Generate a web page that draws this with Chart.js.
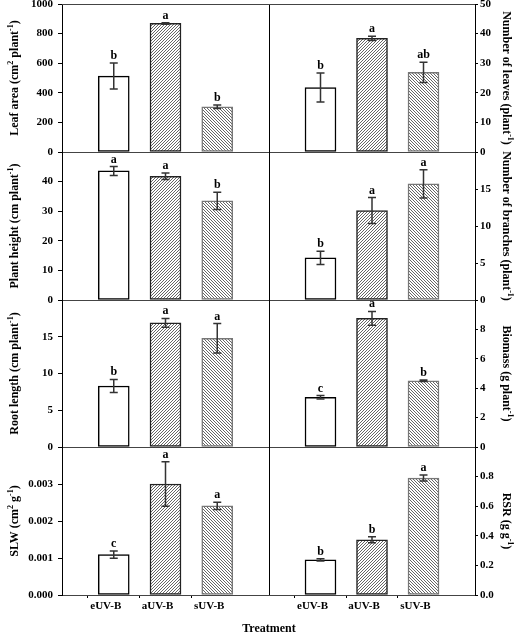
<!DOCTYPE html>
<html>
<head>
<meta charset="utf-8">
<script src="https://cdn.jsdelivr.net/npm/chart.js@4.4.0/dist/chart.umd.min.js"></script>
<style>
	body { margin: 0; background: #fff; }
	#wrap { position: relative; width: 517px; height: 635px; }
	#wrap canvas { position: absolute; left: 0; top: 0; }
</style>
</head>
<body>
<div id="wrap"></div>
<script>
const treatments = ["eUV-B", "aUV-B", "sUV-B"];

// left column
const leafArea = [513, 869, 306];
const leafAreaErr = [88, 5, 12];
const leafAreaSig = ["b", "a", "b"];

const plantHeight = [43.6, 41.8, 33.5];
const plantHeightErr = [1.5, 1.1, 2.9];
const plantHeightSig = ["a", "a", "b"];

const rootLength = [8.3, 16.9, 14.8];
const rootLengthErr = [0.9, 0.6, 2.0];
const rootLengthSig = ["b", "a", "a"];

const slw = [0.00109, 0.0030, 0.00241];
const slwErr = [0.0001, 0.0006, 0.0001];
const slwSig = ["c", "a", "a"];

// right column
const leaves = [21.8, 38.4, 26.9];
const leavesErr = [4.9, 0.7, 3.4];
const leavesSig = ["b", "a", "ab"];

const branches = [5.7, 12.1, 15.7];
const branchesErr = [0.9, 1.75, 1.9];
const branchesSig = ["b", "a", "a"];

const biomass = [3.38, 8.75, 4.5];
const biomassErr = [0.12, 0.47, 0.05];
const biomassSig = ["c", "a", "b"];

const rsr = [0.237, 0.373, 0.79];
const rsrErr = [0.008, 0.02, 0.02];
const rsrSig = ["b", "b", "a"];

// panel setup
const panels = [
	{ col: 0, row: 0, values: leafArea, err: leafAreaErr, sig: leafAreaSig, max: 1000, step: 200, dec: 0,
		title: [["Leaf area (cm"], ["2", 1], [" plant"], ["-1", 1], [")"]] },
	{ col: 1, row: 0, values: leaves, err: leavesErr, sig: leavesSig, max: 50, step: 10, dec: 0,
		title: [["Number of leaves (plant"], ["-1", 1], [")"]] },
	{ col: 0, row: 1, values: plantHeight, err: plantHeightErr, sig: plantHeightSig, max: 50, step: 10, dec: 0,
		title: [["Plant height (cm plant"], ["-1", 1], [")"]] },
	{ col: 1, row: 1, values: branches, err: branchesErr, sig: branchesSig, max: 20, step: 5, dec: 0,
		title: [["Number of branches (plant"], ["-1", 1], [")"]] },
	{ col: 0, row: 2, values: rootLength, err: rootLengthErr, sig: rootLengthSig, max: 20, step: 5, dec: 0,
		title: [["Root length (cm plant"], ["-1", 1], [")"]] },
	{ col: 1, row: 2, values: biomass, err: biomassErr, sig: biomassSig, max: 10, step: 2, dec: 0,
		title: [["Biomass (g plant"], ["-1", 1], [")"]] },
	{ col: 0, row: 3, values: slw, err: slwErr, sig: slwSig, max: 0.004, step: 0.001, dec: 3,
		title: [["SLW (cm"], ["2", 1], [" g"], ["-1", 1], [")"]] },
	{ col: 1, row: 3, values: rsr, err: rsrErr, sig: rsrSig, max: 1, step: 0.2, dec: 1,
		title: [["RSR (g g"], ["-1", 1], [")"]] },
];

const W = 517, H = 635;
const colX = [62, 269, 475];
const rowY = [4, 152, 300, 447, 595];
const AXW = 40; // forced y axis width
const XAH = 20; // forced x axis height
const FONT = "Liberation Serif";
const tickFont = { family: FONT, size: 11, weight: "bold" };

function hatch(g, dir) {
	const n = 3;
	const c = document.createElement("canvas");
	c.width = n;
	c.height = n;
	const t = c.getContext("2d");
	t.fillStyle = "#fff";
	t.fillRect(0, 0, n, n);
	t.strokeStyle = "#666";
	t.lineWidth = 1;
	t.beginPath();
	if (dir > 0) {
		t.moveTo(0, n); t.lineTo(n, 0);
		t.moveTo(-1, 1); t.lineTo(1, -1);
		t.moveTo(n - 1, n + 1); t.lineTo(n + 1, n - 1);
	} else {
		t.moveTo(0, 0); t.lineTo(n, n);
		t.moveTo(-1, n - 1); t.lineTo(1, n + 1);
		t.moveTo(n - 1, -1); t.lineTo(n + 1, 1);
	}
	t.stroke();
	return g.createPattern(c, "repeat");
}

function drawRich(g, parts, cx, cy, rot) {
	const big = "bold 12px '" + FONT + "'";
	const small = "bold 8px '" + FONT + "'";
	g.save();
	g.translate(cx, cy);
	g.rotate(rot);
	let total = 0;
	parts.forEach((pt) => {
		g.font = pt[1] ? small : big;
		total += g.measureText(pt[0]).width;
	});
	let x = -total / 2;
	g.textAlign = "left";
	g.textBaseline = "middle";
	g.fillStyle = "#000";
	parts.forEach((pt) => {
		g.font = pt[1] ? small : big;
		g.fillText(pt[0], x, pt[1] ? -4 : 0);
		x += g.measureText(pt[0]).width;
	});
	g.restore();
}

function makePanel(p) {
	const canvas = document.createElement("canvas");
	canvas.width = W;
	canvas.height = H;
	document.getElementById("wrap").appendChild(canvas);
	const ctx = canvas.getContext("2d");
	const left = p.col === 0;
	const bottomRow = p.row === 3;

	const pad = {
		top: rowY[p.row],
		bottom: H - rowY[p.row + 1] - XAH,
		left: left ? colX[0] - AXW : colX[1],
		right: left ? W - colX[1] : W - colX[2] - AXW,
	};

	new Chart(ctx, {
		type: "bar",
		data: {
			labels: ["", ...treatments, ""],
			datasets: [
				{
					data: [null, ...p.values, null],
					backgroundColor: ["transparent", "#fff", hatch(ctx, 1), hatch(ctx, -1), "transparent"],
					borderColor: ["transparent", "#000", "#222", "#777", "transparent"],
					borderWidth: 1.5,
					borderSkipped: false,
					barThickness: 31,
				},
			],
		},
		options: {
			responsive: false,
			animation: false,
			devicePixelRatio: 1,
			events: [],
			layout: { padding: pad },
			plugins: { legend: { display: false }, tooltip: { enabled: false } },
			scales: {
				x: {
					type: "category",
					offset: false,
					grid: {
						display: bottomRow,
						drawOnChartArea: false,
						drawTicks: true,
						tickLength: 3,
						color: (c) => (c.index >= 1 && c.index <= 3 ? "#000" : "rgba(0,0,0,0)"),
					},
					border: { display: true, color: "#444", width: 1 },
					ticks: {
						display: bottomRow,
						color: "#000",
						font: tickFont,
						maxRotation: 0,
						autoSkip: false,
						labelOffset: -8,
						padding: 2,
					},
					afterFit: (s) => {
						s.height = XAH;
						s.paddingLeft = 0;
						s.paddingRight = 0;
					},
				},
				y: {
					position: left ? "left" : "right",
					min: 0,
					max: p.max,
					ticks: {
						stepSize: p.step,
						color: "#000",
						font: tickFont,
						padding: left ? 5 : 2,
						callback: (v) => (p.row > 0 && Math.abs(v - p.max) < 1e-9 ? "" : Number(v).toFixed(p.dec)),
					},
					grid: {
						drawOnChartArea: false,
						drawTicks: true,
						tickLength: left ? 4 : 3,
						color: "#000",
					},
					border: { display: true, color: "#000", width: 1 },
					afterFit: (s) => {
						s.width = AXW;
						s.paddingTop = 0;
						s.paddingBottom = 0;
					},
				},
			},
		},
		plugins: [
			{
				id: "extras",
				afterDraw(chart) {
					const g = chart.ctx;
					const a = chart.chartArea;
					const y = chart.scales.y;
					const meta = chart.getDatasetMeta(0);
					g.save();

					// panel frame
					g.lineWidth = 1;
					if (left) {
						g.strokeStyle = "#000";
						g.beginPath();
						g.moveTo(a.right + 0.5, a.top);
						g.lineTo(a.right + 0.5, a.bottom);
						g.stroke();
					}
					if (p.row === 0) {
						g.strokeStyle = "#444";
						g.beginPath();
						g.moveTo(a.left, a.top + 0.5);
						g.lineTo(a.right, a.top + 0.5);
						g.stroke();
					}

					// error bars + letters
					p.values.forEach((v, i) => {
						const x = meta.data[i + 1].x;
						const yt = y.getPixelForValue(v + p.err[i]);
						const yb = y.getPixelForValue(v - p.err[i]);
						g.strokeStyle = "#333";
						g.lineWidth = 1.5;
						g.beginPath();
						g.moveTo(x, yt); g.lineTo(x, yb);
						g.moveTo(x - 4, yt); g.lineTo(x + 4, yt);
						g.moveTo(x - 4, yb); g.lineTo(x + 4, yb);
						g.stroke();
						g.fillStyle = "#000";
						g.font = "bold 12px '" + FONT + "'";
						g.textAlign = "center";
						g.textBaseline = "alphabetic";
						g.fillText(p.sig[i], x, yt - 4);
					});

					// axis title
					const cy = (a.top + a.bottom) / 2;
					if (left) drawRich(g, p.title, a.left - 47, cy, -Math.PI / 2);
					else drawRich(g, p.title, a.right + 31, cy, Math.PI / 2);

					// shared x title
					if (left && bottomRow) {
						g.fillStyle = "#000";
						g.font = "bold 12px '" + FONT + "'";
						g.textAlign = "center";
						g.textBaseline = "middle";
						g.fillText("Treatment", a.right, a.bottom + 34);
					}
					g.restore();
				},
			},
		],
	});
}

panels.forEach(makePanel);
</script>
</body>
</html>
